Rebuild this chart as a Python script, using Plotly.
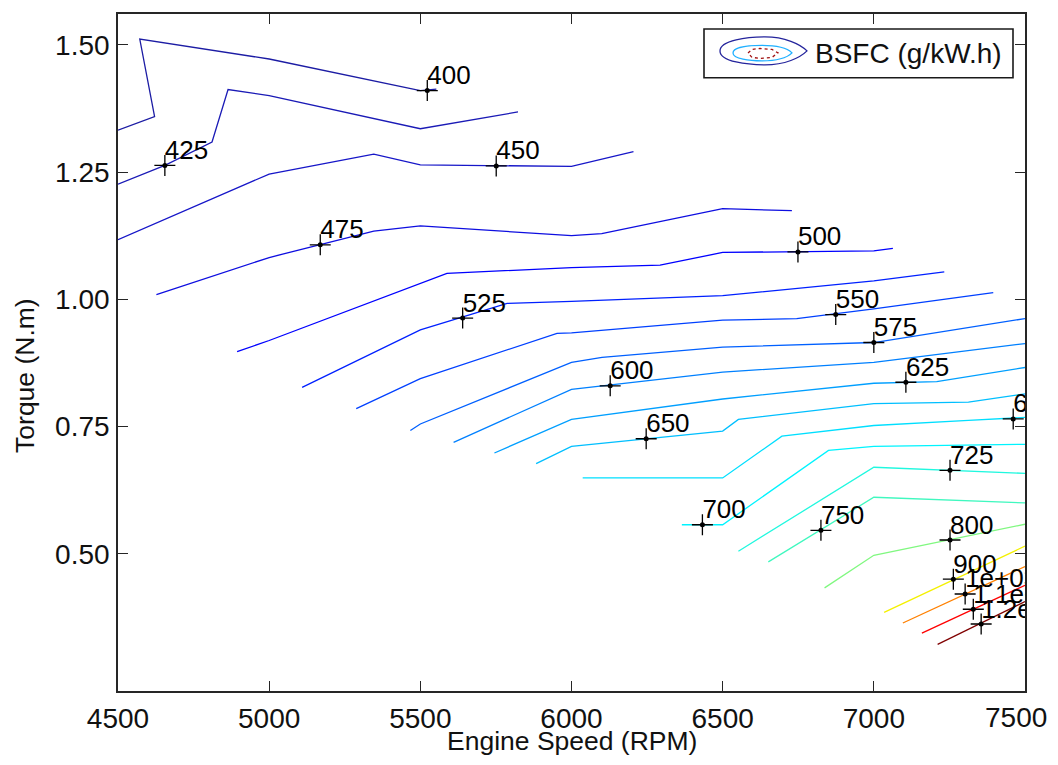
import plotly.graph_objects as go

# ---------------- data ----------------
levels = [400, 425, 450, 475, 500, 525, 550, 575, 600, 625, 650, 675,
          700, 725, 750, 800, 900, 1000, 1100, 1200]

x400 = [4500, 4621, 4572, 5000, 5500, 5553]
y400 = [1.332, 1.359, 1.511, 1.472, 1.410, 1.413]
x425 = [4500, 4655, 4811, 4864, 5000, 5500, 5823]
y425 = [1.226, 1.263, 1.309, 1.412, 1.400, 1.335, 1.368]
x450 = [4500, 5000, 5346, 5500, 6000, 6205]
y450 = [1.117, 1.246, 1.285, 1.264, 1.261, 1.290]
x475 = [4627, 5000, 5346, 5500, 6000, 6100, 6500, 6729]
y475 = [1.009, 1.082, 1.134, 1.144, 1.125, 1.129, 1.178, 1.174]
x500 = [4894, 5000, 5588, 6000, 6293, 6500, 7000, 7063]
y500 = [0.897, 0.919, 1.051, 1.062, 1.067, 1.092, 1.095, 1.100]
x525 = [5109, 5500, 5787, 6000, 6500, 7000, 7233]
y525 = [0.827, 0.940, 0.992, 0.996, 1.007, 1.036, 1.054]
x550 = [5288, 5500, 5952, 6000, 6500, 6745, 7000, 7395]
y550 = [0.785, 0.844, 0.933, 0.934, 0.959, 0.962, 0.981, 1.013]
x575 = [5467, 5500, 6000, 6101, 6500, 7000, 7500]
y575 = [0.742, 0.755, 0.876, 0.886, 0.906, 0.915, 0.962]
x600 = [5610, 6000, 6500, 7000, 7500]
y600 = [0.719, 0.823, 0.857, 0.876, 0.913]
x625 = [5745, 6000, 6500, 7000, 7208, 7500]
y625 = [0.698, 0.764, 0.804, 0.835, 0.838, 0.866]
x650 = [5883, 6000, 6500, 6552, 7000, 7313, 7500]
y650 = [0.677, 0.711, 0.741, 0.764, 0.795, 0.798, 0.814]
x675 = [6037, 6500, 6696, 7000, 7313, 7500]
y675 = [0.649, 0.649, 0.731, 0.752, 0.762, 0.768]
x700 = [6365, 6500, 6850, 7000, 7500]
y700 = [0.557, 0.557, 0.703, 0.711, 0.715]
x725 = [6552, 7000, 7500]
y725 = [0.505, 0.670, 0.658]
x750 = [6651, 7000, 7500]
y750 = [0.484, 0.611, 0.600]
x800 = [6837, 7000, 7500]
y800 = [0.433, 0.497, 0.558]
x900 = [7034, 7500]
y900 = [0.385, 0.515]
x1000 = [7096, 7500]
y1000 = [0.364, 0.475]
x1100 = [7159, 7500]
y1100 = [0.344, 0.438]
x1200 = [7211, 7500]
y1200 = [0.322, 0.406]

label_rpm = [5523, 4655, 5751, 5169, 6749, 5640, 6874, 7000, 6128, 7106,
             6247, 7461, 6433, 7252, 6825, 7252, 7263, 7302, 7329, 7355]
label_torque = [1.410, 1.263, 1.262, 1.107, 1.093, 0.963, 0.970, 0.915, 0.830, 0.837,
                0.726, 0.765, 0.557, 0.664, 0.546, 0.527, 0.450, 0.421, 0.391, 0.362]
label_text = ["400", "425", "450", "475", "500", "525", "550", "575", "600", "625",
              "650", "675", "700", "725", "750", "800", "900", "1e+03", "1.1e+03", "1.2e+03"]

x_ticks = [4500, 5000, 5500, 6000, 6500, 7000, 7500]
y_ticks = [0.50, 0.75, 1.00, 1.25, 1.50]

x_title = "Engine Speed (RPM)"
y_title = "Torque (N.m)"
legend_label = "BSFC (g/kW.h)"

# ---------------- style ----------------
colors = ["#1c1ca4", "#1a1ab6", "#1616c8", "#0e0ee0", "#0000ff", "#0020ff",
          "#0040ff", "#0060ff", "#0080ff", "#009fff", "#00bfff", "#00dfff",
          "#00f4ff", "#20f8df", "#40f8bf", "#80f880", "#f4f000", "#ff8000",
          "#ff0000", "#800000"]

contour_x = [x400, x425, x450, x475, x500, x525, x550, x575, x600, x625,
             x650, x675, x700, x725, x750, x800, x900, x1000, x1100, x1200]
contour_y = [y400, y425, y450, y475, y500, y525, y550, y575, y600, y625,
             y650, y675, y700, y725, y750, y800, y900, y1000, y1100, y1200]

FONT = "Liberation Sans, Arial, sans-serif"
FS_LABEL = 26
FS_TICK = 28
FS_TITLE = 26.5
FS_LEG = 28

fig = go.Figure()
for lev, cx, cy, col in zip(levels, contour_x, contour_y, colors):
    fig.add_trace(go.Scatter(x=cx, y=cy, mode="lines", name=str(lev),
                             line=dict(color=col, width=1.3), showlegend=False,
                             hoverinfo="skip"))

# label markers (+ with dot)
fig.add_trace(go.Scatter(x=label_rpm, y=label_torque, mode="markers",
                         marker=dict(symbol="cross-thin", size=15, color="black",
                                     line=dict(color="black", width=1.3)),
                         showlegend=False, cliponaxis=True))
fig.add_trace(go.Scatter(x=label_rpm, y=label_torque, mode="markers",
                         marker=dict(symbol="circle", size=5, color="black"),
                         showlegend=False, cliponaxis=True))
fig.add_trace(go.Scatter(x=label_rpm, y=label_torque, mode="text", text=label_text,
                         textposition="top right",
                         textfont=dict(family=FONT, size=FS_LABEL, color="black"),
                         showlegend=False, cliponaxis=True))

# page has an 8px body margin: figure is drawn at screen offset (8, 8)
OFF = 8
W, H = 1058 - 2 * OFF, 765 - 2 * OFF
L, T = 118 - OFF, 12 - OFF
R = W - (1025 - OFF)
B = H - (691 - OFF)
PW, PH = W - L - R, H - T - B


def px(xs):
    return (xs - OFF - L) / PW


def py(ys):
    return (H - B - (ys - OFF)) / PH


def bez(segs, start):
    d = "M %.5f,%.5f" % (px(start[0]), py(start[1]))
    for g in segs:
        d += " C " + " ".join("%.5f,%.5f" % (px(a), py(b)) for a, b in g)
    return d + " Z"


shapes = []
shapes.append(dict(type="rect", xref="paper", yref="paper",
                   x0=px(704), x1=px(1013), y0=py(76), y1=py(27),
                   line=dict(color="#1a1a1a", width=1.6), fillcolor="white", layer="above"))
outer = bez([[(720, 38), (748, 35), (765, 35)],
             [(785, 35), (800, 42), (807, 49)],
             [(800, 56), (785, 63), (765, 63)],
             [(748, 63), (720, 60), (720, 49)]], (720, 49))
middle = bez([[(733, 45), (750, 43.5), (762, 43.5)],
              [(778, 43.5), (788, 47), (792, 51)],
              [(788, 55), (778, 59), (762, 59)],
              [(750, 59), (733, 57), (733, 51)]], (733, 51))
inner_pts = [(748, 51), (752, 47.5), (760, 46.5), (772, 47.5), (778, 51),
             (772, 55.5), (760, 56.5), (752, 55.5)]
inner = "M " + " L ".join("%.5f,%.5f" % (px(a), py(b)) for a, b in inner_pts) + " Z"
shapes.append(dict(type="path", xref="paper", yref="paper", path=outer,
                   line=dict(color="#24249c", width=1.3), layer="above"))
shapes.append(dict(type="path", xref="paper", yref="paper", path=middle,
                   line=dict(color="#20b0ff", width=1.3), layer="above"))
shapes.append(dict(type="path", xref="paper", yref="paper", path=inner,
                   line=dict(color="#a01010", width=1.3, dash="dot"), layer="above"))

# last x tick label drawn as annotation so that it stays inside the page
last_tick = x_ticks[-1]
tick_text = [str(v) if v != last_tick else "" for v in x_ticks]

annotations = [
    dict(text=legend_label, xref="paper", yref="paper", x=px(813), y=py(51.5),
         xanchor="left", yanchor="middle", showarrow=False,
         font=dict(family=FONT, size=FS_LEG, color="#111111")),
    dict(text=x_title, xref="paper", yref="paper", x=0.5, y=py(741),
         xanchor="center", yanchor="middle", showarrow=False,
         font=dict(family=FONT, size=FS_TITLE, color="#111111")),
    dict(text=y_title, xref="paper", yref="paper", x=px(25), y=py(375),
         xanchor="center", yanchor="middle", showarrow=False, textangle=-90,
         font=dict(family=FONT, size=FS_TITLE, color="#111111")),
    dict(text=str(last_tick), xref="x", yref="paper", x=last_tick, y=py(718),
         xanchor="right", yanchor="middle", showarrow=False, xshift=23,
         borderpad=0, font=dict(family=FONT, size=FS_TICK, color="#111111")),
]

axis_common = dict(showline=True, linecolor="#262626", linewidth=1.6, mirror="ticks",
                   ticks="inside", ticklen=10, tickwidth=1.2, tickcolor="#262626",
                   showgrid=False, zeroline=False,
                   tickfont=dict(family=FONT, size=FS_TICK, color="#111111"))

fig.update_layout(
    width=W, height=H,
    margin=dict(l=L, r=R, t=T, b=B, pad=0),
    paper_bgcolor="white", plot_bgcolor="white",
    xaxis=dict(range=[4500, 7500], tickvals=x_ticks,
               ticktext=tick_text, ticklabelstandoff=2, **axis_common),
    yaxis=dict(range=[0.2304, 1.5604], tickvals=y_ticks,
               ticktext=["%.2f" % v for v in y_ticks], ticklabelstandoff=1, **axis_common),
    shapes=shapes, annotations=annotations, showlegend=False,
)

fig.write_html("out.html")
